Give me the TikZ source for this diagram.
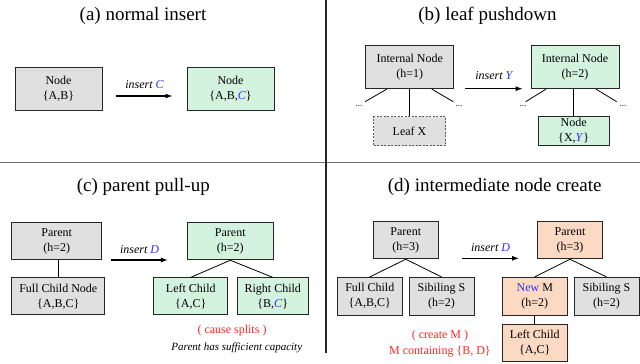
\documentclass[tikz,border=0pt]{standalone}
\usepackage{fontspec}
\setmainfont{Liberation Serif}
\usepackage{xcolor}
\usepackage{tikz}
\usetikzlibrary{arrows.meta, positioning}

\definecolor{oldfill}{HTML}{E0E0E0}
\definecolor{newfill}{HTML}{D3F3DF}
\definecolor{midfill}{HTML}{FCD9C2}
\definecolor{keyblue}{HTML}{3030FF}
\definecolor{notered}{HTML}{FF2626}
\newcommand{\key}[1]{\textcolor{keyblue}{\textit{#1}}}

\begin{document}
\begin{tikzpicture}[
  x=1pt, y=-1pt,
  box/.style={rectangle, draw=black!85, line width=0.9pt, align=center,
              inner sep=0pt, font=\fontsize{12}{15}\selectfont},
  oldbox/.style={box, fill=oldfill},
  newbox/.style={box, fill=newfill},
  midbox/.style={box, fill=midfill},
  leafbox/.style={box, fill=oldfill, draw=black!65, dashed,
                  dash pattern=on 2pt off 1.5pt},
  arr/.style={-{Latex[length=7pt, width=5pt]}, line width=1.1pt},
  link/.style={line width=0.8pt},
  lbl/.style={font=\fontsize{12}{14}\selectfont\itshape},
  title/.style={font=\fontsize{19}{22}\selectfont},
  note/.style={font=\fontsize{12}{16}\selectfont, text=notered, align=center}
]
  \useasboundingbox (0,0) rectangle (640,364);

  % panel frame
  \draw[line width=1.5pt, black!55] (0,162.7) -- (640,162.7);
  \draw[line width=1.2pt, black!85] (326,0) -- (326,352.7);

  % (a) normal insert
  \node[title] (ta) at (143,16) {(a) normal insert};
  \node[oldbox, minimum width=87pt, minimum height=43pt] (ab)  at (58.5,89)  {Node\\\{A,B\}};
  \node[newbox, minimum width=87pt, minimum height=43pt] (abc) at (230.5,89) {Node\\\{A,B,\key{C}\}};
  \draw[arr] ([xshift=14pt, yshift=-7pt]ab.east) -- node[lbl, above=4pt]{insert \key{C}} ([xshift=-14pt, yshift=-7pt]abc.west);

  % (b) leaf pushdown
  \node[title] (tb) at (487.5,16) {(b) leaf pushdown};
  \node[oldbox, minimum width=88pt, minimum height=43pt] (int1) at (409.8,67.2) {Internal Node\\(h=1)};
  \node[leafbox, minimum width=72pt, minimum height=29pt] (leafx) at (409.5,131.2) {Leaf X};
  \node[newbox, minimum width=88pt, minimum height=43pt] (int2) at (575,67.2) {Internal Node\\(h=2)};
  \node[newbox, minimum width=71pt, minimum height=29pt] (xy) at (573.7,131.2) {Node\\\{X,\key{Y}\}};
  \node[font=\small] (dl1) at (359,106) {...};
  \node[font=\small] (dr1) at (459,106) {...};
  \node[font=\small] (dl2) at (523,106) {...};
  \node[font=\small] (dr2) at (623,106) {...};
  \coordinate (el1) at (365,101.7);
  \coordinate (er1) at (453.3,101.7);
  \coordinate (el2) at (525.7,101.7);
  \coordinate (er2) at (616.7,101.7);
  \draw[link] ([xshift=-23pt]int1.south) -- (el1);
  \draw[link] ([xshift=22pt]int1.south) -- (er1);
  \draw[link] (leafx.north |- int1.south) -- (leafx.north);
  \draw[link] ([xshift=-29pt]int2.south) -- (el2);
  \draw[link] ([xshift=21pt]int2.south) -- (er2);
  \draw[link] (xy.north |- int2.south) -- (xy.north);
  \draw[arr] ([xshift=11pt, yshift=-21.5pt]int1.east) -- node[lbl, above=5pt]{insert \key{Y}} ([xshift=-8pt, yshift=-21.5pt]int2.west);

  % (c) parent pull-up
  \node[title] (tc) at (143.3,186.7) {(c) parent pull-up};
  \node[oldbox, minimum width=90pt, minimum height=37pt] (pc1) at (56.7,241.3) {Parent\\(h=2)};
  \node[oldbox, minimum width=93pt, minimum height=37pt] (full) at (58.3,296.3) {Full Child Node\\\{A,B,C\}};
  \node[newbox, minimum width=86pt, minimum height=37pt] (pc2) at (230.3,241.3) {Parent\\(h=2)};
  \node[newbox, minimum width=74pt, minimum height=37pt] (lc) at (190.8,296.3) {Left Child\\\{A,C\}};
  \node[newbox, minimum width=71pt, minimum height=37pt] (rc) at (272.8,296.3) {Right Child\\\{B,\key{C}\}};
  \draw[link] (full.north |- pc1.south) -- (full.north);
  \draw[link] (pc2.south) -- (lc.north);
  \draw[link] (pc2.south) -- (rc.north);
  \draw[arr] ([xshift=9.3pt, yshift=-18.7pt]pc1.east) -- node[lbl, above=3pt]{insert \key{D}} ([xshift=-19pt, yshift=-18.7pt]pc2.west);
  \node[note] (split) at (232,330.7) {( cause splits )};
  \node[font=\fontsize{11}{13}\selectfont\itshape] (cap) at (236.8,348.3) {Parent has sufficient capacity};

  % (d) intermediate node create
  \node[title] (td) at (494.7,186.7) {(d) intermediate node create};
  \node[oldbox, minimum width=65pt, minimum height=37pt] (pd1) at (405.8,240.3) {Parent\\(h=3)};
  \node[oldbox, minimum width=65pt, minimum height=37.7pt] (fulld) at (369.8,296.2) {Full Child\\\{A,B,C\}};
  \node[oldbox, minimum width=65pt, minimum height=37.7pt] (sib1) at (441.5,296.2) {Sibiling S\\(h=2)};
  \node[midbox, minimum width=65pt, minimum height=37pt] (pd2) at (570,240.3) {Parent\\(h=3)};
  \node[midbox, minimum width=65pt, minimum height=37.7pt] (newm) at (534.8,296.2) {\textcolor{keyblue}{New} M\\(h=2)};
  \node[oldbox, minimum width=65pt, minimum height=37.7pt] (sib2) at (606.5,296.2) {Sibiling S\\(h=2)};
  \node[midbox, minimum width=65pt, minimum height=37.4pt] (ld) at (534.8,343) {Left Child\\\{A,C\}};
  \draw[link] (pd1.south) -- (fulld.north);
  \draw[link] (pd1.south) -- (sib1.north);
  \draw[link] (pd2.south) -- (newm.north);
  \draw[link] (pd2.south) -- (sib2.north);
  \draw[link] (newm.south) -- (ld.north);
  \draw[arr] ([xshift=23.4pt, yshift=-18pt]pd1.east) -- node[lbl, above=3pt]{insert \key{D}} ([xshift=-18pt, yshift=-18pt]pd2.west);
  \node[note] (mnote) at (440,343.7) {( create M )\\M containing \{B, D\}};
\end{tikzpicture}
\end{document}
